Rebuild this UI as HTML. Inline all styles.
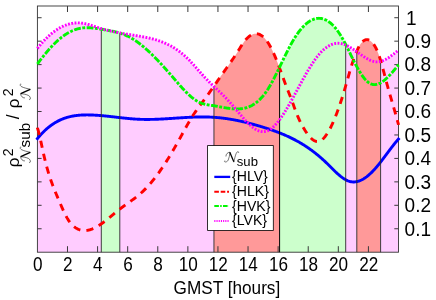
<!DOCTYPE html>
<html><head><meta charset="utf-8"><title>chart</title>
<style>html,body{margin:0;padding:0;background:#fff;overflow:hidden}body{width:436px;height:300px;position:relative;font-family:"Liberation Sans",sans-serif}svg{will-change:transform}</style></head>
<body>
<svg width="436" height="300" viewBox="0 0 436 300" style="position:absolute;left:0;top:0">
<rect x="0" y="0" width="436" height="300" fill="#fff"/>
<polygon fill="#ffccff" points="37.40,252.20 37.40,48.36 37.90,47.73 38.40,47.11 38.90,46.49 39.40,45.89 39.90,45.29 40.40,44.70 40.90,44.12 41.40,43.54 41.90,42.97 42.40,42.41 42.90,41.86 43.40,41.32 43.90,40.79 44.40,40.26 44.90,39.74 45.40,39.23 45.90,38.72 46.40,38.23 46.90,37.74 47.40,37.26 47.90,36.79 48.40,36.33 48.90,35.87 49.40,35.42 49.90,34.98 50.40,34.55 50.90,34.13 51.40,33.71 51.90,33.30 52.40,32.90 52.90,32.51 53.40,32.12 53.90,31.75 54.40,31.38 54.90,31.02 55.40,30.67 55.90,30.32 56.40,29.98 56.90,29.65 57.40,29.33 57.90,29.02 58.40,28.71 58.90,28.41 59.40,28.12 59.90,27.84 60.40,27.57 60.90,27.30 61.40,27.04 61.90,26.79 62.40,26.55 62.90,26.31 63.40,26.08 63.90,25.86 64.40,25.65 64.90,25.45 65.40,25.25 65.90,25.06 66.40,24.88 66.90,24.71 67.40,24.55 67.90,24.39 68.40,24.24 68.90,24.10 69.40,23.96 69.90,23.84 70.40,23.72 70.90,23.61 71.40,23.51 71.90,23.41 72.40,23.32 72.90,23.25 73.40,23.17 73.90,23.11 74.40,23.05 74.90,23.01 75.40,22.96 75.90,22.93 76.40,22.91 76.90,22.89 77.40,22.88 77.90,22.88 78.40,22.88 78.90,22.90 79.40,22.92 79.90,22.95 80.40,22.98 80.90,23.03 81.40,23.08 81.90,23.14 82.40,23.21 82.90,23.28 83.40,23.36 83.90,23.45 84.40,23.54 84.90,23.64 85.40,23.75 85.90,23.86 86.40,23.98 86.90,24.10 87.40,24.22 87.90,24.35 88.40,24.49 88.90,24.63 89.40,24.77 89.90,24.92 90.40,25.06 90.90,25.22 91.40,25.37 91.90,25.53 92.40,25.69 92.90,25.85 93.40,26.01 93.90,26.18 94.40,26.34 94.90,26.51 95.40,26.68 95.90,26.84 96.40,27.01 96.90,27.18 97.40,27.35 97.90,27.51 98.40,27.68 98.90,27.84 99.40,28.01 99.90,28.17 100.40,28.33 100.90,28.49 101.30,28.61 101.30,252.20"/>
<polygon fill="#ccffcc" points="101.30,252.20 101.30,28.61 101.40,28.64 101.90,28.80 102.40,28.95 102.90,29.09 103.40,29.24 103.90,29.38 104.40,29.52 104.90,29.66 105.40,29.80 105.90,29.93 106.40,30.03 106.90,30.12 107.40,30.20 107.90,30.29 108.40,30.38 108.90,30.47 109.40,30.57 109.90,30.66 110.40,30.76 110.90,30.86 111.40,30.96 111.90,31.07 112.40,31.17 112.90,31.28 113.40,31.39 113.90,31.51 114.40,31.63 114.90,31.75 115.40,31.87 115.90,32.00 116.40,32.13 116.90,32.26 117.40,32.40 117.90,32.54 118.40,32.68 118.90,32.78 119.40,32.87 119.80,32.94 119.80,252.20"/>
<polygon fill="#ffccff" points="119.80,252.20 119.80,32.94 119.90,32.96 120.40,33.05 120.90,33.14 121.40,33.22 121.90,33.31 122.40,33.40 122.90,33.48 123.40,33.56 123.90,33.65 124.40,33.73 124.90,33.81 125.40,33.89 125.90,33.98 126.40,34.06 126.90,34.14 127.40,34.22 127.90,34.30 128.40,34.38 128.90,34.46 129.40,34.54 129.90,34.62 130.40,34.70 130.90,34.78 131.40,34.85 131.90,34.93 132.40,35.01 132.90,35.09 133.40,35.17 133.90,35.25 134.40,35.33 134.90,35.41 135.40,35.50 135.90,35.58 136.40,35.66 136.90,35.74 137.40,35.82 137.90,35.91 138.40,35.99 138.90,36.08 139.40,36.16 139.90,36.25 140.40,36.34 140.90,36.43 141.40,36.51 141.90,36.61 142.40,36.70 142.90,36.79 143.40,36.88 143.90,36.98 144.40,37.07 144.90,37.17 145.40,37.27 145.90,37.37 146.40,37.47 146.90,37.58 147.40,37.68 147.90,37.79 148.40,37.90 148.90,38.01 149.40,38.13 149.90,38.24 150.40,38.36 150.90,38.48 151.40,38.61 151.90,38.73 152.40,38.86 152.90,38.99 153.40,39.12 153.90,39.26 154.40,39.40 154.90,39.54 155.40,39.68 155.90,39.83 156.40,39.98 156.90,40.14 157.40,40.29 157.90,40.45 158.40,40.62 158.90,40.78 159.40,40.95 159.90,41.13 160.40,41.31 160.90,41.49 161.40,41.67 161.90,41.86 162.40,42.06 162.90,42.25 163.40,42.45 163.90,42.66 164.40,42.87 164.90,43.08 165.40,43.30 165.90,43.52 166.40,43.75 166.90,43.98 167.40,44.22 167.90,44.46 168.40,44.71 168.90,44.96 169.40,45.21 169.90,45.47 170.40,45.74 170.90,46.01 171.40,46.29 171.90,46.57 172.40,46.85 172.90,47.15 173.40,47.44 173.90,47.75 174.40,48.06 174.90,48.37 175.40,48.69 175.90,49.02 176.40,49.35 176.90,49.69 177.40,50.03 177.90,50.38 178.40,50.74 178.90,51.10 179.40,51.47 179.90,51.85 180.40,52.23 180.90,52.62 181.40,53.02 181.90,53.42 182.40,53.83 182.90,54.24 183.40,54.67 183.90,55.09 184.40,55.53 184.90,55.98 185.40,56.43 185.90,56.89 186.40,57.35 186.90,57.82 187.40,58.31 187.90,58.79 188.40,59.29 188.90,59.79 189.40,60.30 189.90,60.82 190.40,61.34 190.90,61.87 191.40,62.41 191.90,62.95 192.40,63.49 192.90,64.04 193.40,64.59 193.90,65.15 194.40,65.71 194.90,66.27 195.40,66.83 195.90,67.40 196.40,67.97 196.90,68.53 197.40,69.10 197.90,69.67 198.40,70.24 198.90,70.81 199.40,71.38 199.90,71.95 200.40,72.52 200.90,73.08 201.40,73.65 201.90,74.21 202.40,74.76 202.90,75.32 203.40,75.87 203.90,76.41 204.40,76.95 204.90,77.49 205.40,78.02 205.90,78.55 206.40,79.07 206.90,79.59 207.40,80.10 207.90,80.61 208.40,81.11 208.90,81.61 209.40,82.11 209.90,82.60 210.40,83.09 210.90,83.58 211.40,84.06 211.90,84.54 212.40,85.02 212.90,85.50 213.40,85.98 213.90,86.19 213.95,86.12 213.95,252.20"/>
<polygon fill="#ff9999" points="213.95,252.20 213.95,86.12 214.40,85.47 214.90,84.75 215.40,84.03 215.90,83.31 216.40,82.58 216.90,81.86 217.40,81.14 217.90,80.42 218.40,79.69 218.90,78.97 219.40,78.25 219.90,77.53 220.40,76.81 220.90,76.09 221.40,75.37 221.90,74.65 222.40,73.93 222.90,73.22 223.40,72.50 223.90,71.79 224.40,71.08 224.90,70.37 225.40,69.67 225.90,68.96 226.40,68.25 226.90,67.55 227.40,66.84 227.90,66.13 228.40,65.43 228.90,64.72 229.40,64.01 229.90,63.29 230.40,62.58 230.90,61.86 231.40,61.14 231.90,60.42 232.40,59.69 232.90,58.96 233.40,58.23 233.90,57.49 234.40,56.74 234.90,55.99 235.40,55.24 235.90,54.47 236.40,53.71 236.90,52.93 237.40,52.15 237.90,51.36 238.40,50.57 238.90,49.77 239.40,48.95 239.90,48.14 240.40,47.32 240.90,46.51 241.40,45.72 241.90,44.93 242.40,44.17 242.90,43.43 243.40,42.71 243.90,42.02 244.40,41.36 244.90,40.73 245.40,40.12 245.90,39.53 246.40,38.98 246.90,38.45 247.40,37.95 247.90,37.47 248.40,37.03 248.90,36.61 249.40,36.21 249.90,35.85 250.40,35.51 250.90,35.21 251.40,34.93 251.90,34.67 252.40,34.45 252.90,34.26 253.40,34.09 253.90,33.95 254.40,33.85 254.90,33.77 255.40,33.72 255.90,33.70 256.40,33.71 256.90,33.75 257.40,33.82 257.90,33.92 258.40,34.05 258.90,34.22 259.40,34.41 259.90,34.63 260.40,34.88 260.90,35.17 261.40,35.48 261.90,35.83 262.40,36.21 262.90,36.62 263.40,37.06 263.90,37.54 264.40,38.04 264.90,38.58 265.40,39.15 265.90,39.76 266.40,40.39 266.90,41.06 267.40,41.76 267.90,42.50 268.40,43.27 268.90,44.07 269.40,44.90 269.90,45.77 270.40,46.68 270.90,47.61 271.40,48.58 271.90,49.58 272.40,50.61 272.90,51.67 273.40,52.75 273.90,53.86 274.40,55.00 274.90,56.16 275.40,57.35 275.90,58.56 276.40,59.78 276.90,61.03 277.40,62.30 277.90,63.59 278.40,64.89 278.90,66.21 279.40,67.54 279.60,67.13 279.60,252.20"/>
<polygon fill="#ccffcc" points="279.60,252.20 279.60,67.13 279.90,66.52 280.40,65.48 280.90,64.44 281.40,63.39 281.90,62.35 282.40,61.31 282.90,60.27 283.40,59.23 283.90,58.20 284.40,57.17 284.90,56.14 285.40,55.12 285.90,54.10 286.40,53.09 286.90,52.09 287.40,51.09 287.90,50.10 288.40,49.13 288.90,48.16 289.40,47.20 289.90,46.26 290.40,45.32 290.90,44.40 291.40,43.49 291.90,42.60 292.40,41.72 292.90,40.86 293.40,40.01 293.90,39.18 294.40,38.36 294.90,37.56 295.40,36.78 295.90,36.01 296.40,35.26 296.90,34.52 297.40,33.80 297.90,33.10 298.40,32.41 298.90,31.74 299.40,31.08 299.90,30.44 300.40,29.81 300.90,29.21 301.40,28.61 301.90,28.04 302.40,27.48 302.90,26.94 303.40,26.41 303.90,25.90 304.40,25.41 304.90,24.93 305.40,24.47 305.90,24.02 306.40,23.59 306.90,23.18 307.40,22.79 307.90,22.41 308.40,22.05 308.90,21.70 309.40,21.37 309.90,21.06 310.40,20.76 310.90,20.48 311.40,20.22 311.90,19.98 312.40,19.75 312.90,19.54 313.40,19.34 313.90,19.16 314.40,19.00 314.90,18.86 315.40,18.73 315.90,18.62 316.40,18.53 316.90,18.46 317.40,18.40 317.90,18.36 318.40,18.33 318.90,18.32 319.40,18.33 319.90,18.36 320.40,18.41 320.90,18.47 321.40,18.55 321.90,18.64 322.40,18.76 322.90,18.89 323.40,19.04 323.90,19.21 324.40,19.39 324.90,19.59 325.40,19.81 325.90,20.05 326.40,20.30 326.90,20.57 327.40,20.86 327.90,21.17 328.40,21.50 328.90,21.84 329.40,22.20 329.90,22.58 330.40,22.98 330.90,23.40 331.40,23.84 331.90,24.29 332.40,24.76 332.90,25.26 333.40,25.77 333.90,26.30 334.40,26.85 334.90,27.42 335.40,28.01 335.90,28.63 336.40,29.26 336.90,29.91 337.40,30.58 337.90,31.27 338.40,31.98 338.90,32.72 339.40,33.47 339.90,34.25 340.40,35.04 340.90,35.86 341.40,36.69 341.90,37.54 342.40,38.41 342.90,39.30 343.40,40.20 343.90,41.12 344.40,42.05 344.90,43.00 345.40,43.95 345.70,44.54 345.70,252.20"/>
<polygon fill="#ffccff" points="345.70,252.20 345.70,44.54 345.90,44.92 346.40,45.39 346.90,45.62 347.40,45.86 347.90,46.12 348.40,46.38 348.90,46.65 349.40,46.92 349.90,47.21 350.40,47.50 350.90,47.80 351.40,48.11 351.90,48.42 352.40,48.74 352.90,49.06 353.40,49.39 353.90,49.72 354.40,50.06 354.90,50.40 355.40,50.74 355.90,51.09 356.40,51.44 356.80,50.97 356.80,252.20"/>
<polygon fill="#ff9999" points="356.80,252.20 356.80,50.97 356.90,50.86 357.40,49.76 357.90,48.71 358.40,47.72 358.90,46.79 359.40,45.91 359.90,45.09 360.40,44.33 360.90,43.62 361.40,42.98 361.90,42.39 362.40,41.86 362.90,41.39 363.40,40.98 363.90,40.62 364.40,40.32 364.90,40.07 365.40,39.88 365.90,39.74 366.40,39.66 366.90,39.63 367.40,39.66 367.90,39.73 368.40,39.86 368.90,40.04 369.40,40.27 369.90,40.56 370.40,40.89 370.90,41.27 371.40,41.70 371.90,42.18 372.40,42.71 372.90,43.30 373.40,43.93 373.90,44.63 374.40,45.38 374.90,46.20 375.40,47.07 375.90,48.02 376.40,49.02 376.90,50.10 377.40,51.25 377.90,52.47 378.40,53.77 378.90,55.15 379.40,56.60 379.90,58.14 380.40,59.75 380.60,60.37 380.60,252.20"/>
<polygon fill="#ffccff" points="380.60,252.20 380.60,60.37 380.90,61.31 381.40,61.17 381.90,61.01 382.40,60.84 382.90,60.65 383.40,60.45 383.90,60.23 384.40,60.00 384.90,59.76 385.40,59.51 385.90,59.24 386.40,58.96 386.90,58.68 387.40,58.38 387.90,58.07 388.40,57.76 388.90,57.43 389.40,57.10 389.90,56.76 390.40,56.41 390.90,56.05 391.40,55.69 391.90,55.32 392.40,54.95 392.90,54.57 393.40,54.18 393.90,53.80 394.40,53.40 394.90,53.01 395.40,52.61 395.90,52.21 396.40,51.81 396.90,51.41 397.40,51.01 397.90,50.60 398.50,50.12 398.50,252.20"/>
<rect x="37.4" y="6.0" width="361.1" height="246.2" fill="none" stroke="#333" stroke-width="0.9"/>
<path d="M67.49,252.2 v-6 M67.49,6.0 v6 M97.58,252.2 v-6 M97.58,6.0 v6 M127.68,252.2 v-6 M127.68,6.0 v6 M157.77,252.2 v-6 M157.77,6.0 v6 M187.86,252.2 v-6 M187.86,6.0 v6 M217.95,252.2 v-6 M217.95,6.0 v6 M248.04,252.2 v-6 M248.04,6.0 v6 M278.13,252.2 v-6 M278.13,6.0 v6 M308.22,252.2 v-6 M308.22,6.0 v6 M338.32,252.2 v-6 M338.32,6.0 v6 M368.41,252.2 v-6 M368.41,6.0 v6 M37.4,228.75 h4.2 M398.5,228.75 h-4.2 M37.4,205.30 h4.2 M398.5,205.30 h-4.2 M37.4,181.86 h4.2 M398.5,181.86 h-4.2 M37.4,158.41 h4.2 M398.5,158.41 h-4.2 M37.4,134.96 h4.2 M398.5,134.96 h-4.2 M37.4,111.51 h4.2 M398.5,111.51 h-4.2 M37.4,88.07 h4.2 M398.5,88.07 h-4.2 M37.4,64.62 h4.2 M398.5,64.62 h-4.2 M37.4,41.17 h4.2 M398.5,41.17 h-4.2 M37.4,17.72 h4.2 M398.5,17.72 h-4.2" stroke="#3a3a3a" stroke-width="1" fill="none"/>
<g fill="none" stroke-linejoin="round">
<path d="M36.51,139.73 L37.40,138.65 L37.90,138.03 L38.40,137.43 L38.90,136.84 L39.40,136.26 L39.90,135.69 L40.40,135.13 L40.90,134.58 L41.40,134.04 L41.90,133.50 L42.40,132.98 L42.90,132.47 L43.40,131.97 L43.90,131.47 L44.40,130.99 L44.90,130.51 L45.40,130.05 L45.90,129.59 L46.40,129.14 L46.90,128.70 L47.40,128.27 L47.90,127.85 L48.40,127.44 L48.90,127.04 L49.40,126.64 L49.90,126.25 L50.40,125.87 L50.90,125.50 L51.40,125.14 L51.90,124.79 L52.40,124.44 L52.90,124.10 L53.40,123.77 L53.90,123.45 L54.40,123.13 L54.90,122.82 L55.40,122.52 L55.90,122.23 L56.40,121.94 L56.90,121.66 L57.40,121.39 L57.90,121.13 L58.40,120.87 L58.90,120.62 L59.40,120.37 L59.90,120.14 L60.40,119.91 L60.90,119.68 L61.40,119.46 L61.90,119.25 L62.40,119.05 L62.90,118.85 L63.40,118.66 L63.90,118.47 L64.40,118.29 L64.90,118.11 L65.40,117.94 L65.90,117.78 L66.40,117.62 L66.90,117.47 L67.40,117.32 L67.90,117.18 L68.40,117.04 L68.90,116.91 L69.40,116.79 L69.90,116.67 L70.40,116.55 L70.90,116.44 L71.40,116.33 L71.90,116.23 L72.40,116.13 L72.90,116.04 L73.40,115.95 L73.90,115.87 L74.40,115.79 L74.90,115.71 L75.40,115.64 L75.90,115.57 L76.40,115.51 L76.90,115.45 L77.40,115.39 L77.90,115.34 L78.40,115.29 L78.90,115.24 L79.40,115.20 L79.90,115.16 L80.40,115.13 L80.90,115.10 L81.40,115.07 L81.90,115.04 L82.40,115.02 L82.90,115.00 L83.40,114.98 L83.90,114.96 L84.40,114.95 L84.90,114.94 L85.40,114.93 L85.90,114.93 L86.40,114.92 L86.90,114.92 L87.40,114.92 L87.90,114.92 L88.40,114.93 L88.90,114.94 L89.40,114.94 L89.90,114.95 L90.40,114.97 L90.90,114.98 L91.40,115.00 L91.90,115.01 L92.40,115.03 L92.90,115.05 L93.40,115.07 L93.90,115.10 L94.40,115.12 L94.90,115.15 L95.40,115.18 L95.90,115.21 L96.40,115.24 L96.90,115.27 L97.40,115.30 L97.90,115.34 L98.40,115.37 L98.90,115.41 L99.40,115.45 L99.90,115.49 L100.40,115.53 L100.90,115.57 L101.40,115.61 L101.90,115.66 L102.40,115.70 L102.90,115.75 L103.40,115.79 L103.90,115.84 L104.40,115.89 L104.90,115.94 L105.40,115.99 L105.90,116.04 L106.40,116.09 L106.90,116.14 L107.40,116.19 L107.90,116.25 L108.40,116.30 L108.90,116.35 L109.40,116.41 L109.90,116.46 L110.40,116.52 L110.90,116.58 L111.40,116.63 L111.90,116.69 L112.40,116.74 L112.90,116.80 L113.40,116.86 L113.90,116.92 L114.40,116.97 L114.90,117.03 L115.40,117.09 L115.90,117.15 L116.40,117.21 L116.90,117.26 L117.40,117.32 L117.90,117.38 L118.40,117.44 L118.90,117.49 L119.40,117.55 L119.90,117.61 L120.40,117.66 L120.90,117.72 L121.40,117.78 L121.90,117.83 L122.40,117.89 L122.90,117.94 L123.40,118.00 L123.90,118.05 L124.40,118.11 L124.90,118.16 L125.40,118.21 L125.90,118.26 L126.40,118.31 L126.90,118.36 L127.40,118.41 L127.90,118.46 L128.40,118.51 L128.90,118.56 L129.40,118.60 L129.90,118.65 L130.40,118.69 L130.90,118.74 L131.40,118.78 L131.90,118.82 L132.40,118.86 L132.90,118.90 L133.40,118.94 L133.90,118.98 L134.40,119.01 L134.90,119.05 L135.40,119.08 L135.90,119.11 L136.40,119.14 L136.90,119.17 L137.40,119.20 L137.90,119.23 L138.40,119.25 L138.90,119.27 L139.40,119.30 L139.90,119.32 L140.40,119.33 L140.90,119.35 L141.40,119.37 L141.90,119.38 L142.40,119.39 L142.90,119.41 L143.40,119.42 L143.90,119.42 L144.40,119.43 L144.90,119.44 L145.40,119.44 L145.90,119.45 L146.40,119.45 L146.90,119.45 L147.40,119.45 L147.90,119.45 L148.40,119.45 L148.90,119.44 L149.40,119.44 L149.90,119.43 L150.40,119.42 L150.90,119.42 L151.40,119.41 L151.90,119.40 L152.40,119.39 L152.90,119.37 L153.40,119.36 L153.90,119.35 L154.40,119.33 L154.90,119.32 L155.40,119.30 L155.90,119.28 L156.40,119.26 L156.90,119.24 L157.40,119.22 L157.90,119.20 L158.40,119.18 L158.90,119.16 L159.40,119.14 L159.90,119.11 L160.40,119.09 L160.90,119.06 L161.40,119.04 L161.90,119.01 L162.40,118.99 L162.90,118.96 L163.40,118.93 L163.90,118.90 L164.40,118.87 L164.90,118.85 L165.40,118.82 L165.90,118.79 L166.40,118.76 L166.90,118.73 L167.40,118.69 L167.90,118.66 L168.40,118.63 L168.90,118.60 L169.40,118.57 L169.90,118.53 L170.40,118.50 L170.90,118.47 L171.40,118.44 L171.90,118.40 L172.40,118.37 L172.90,118.34 L173.40,118.30 L173.90,118.27 L174.40,118.24 L174.90,118.20 L175.40,118.17 L175.90,118.14 L176.40,118.10 L176.90,118.07 L177.40,118.03 L177.90,118.00 L178.40,117.97 L178.90,117.94 L179.40,117.90 L179.90,117.87 L180.40,117.84 L180.90,117.81 L181.40,117.77 L181.90,117.74 L182.40,117.71 L182.90,117.68 L183.40,117.65 L183.90,117.62 L184.40,117.59 L184.90,117.56 L185.40,117.53 L185.90,117.50 L186.40,117.47 L186.90,117.45 L187.40,117.42 L187.90,117.39 L188.40,117.37 L188.90,117.34 L189.40,117.32 L189.90,117.29 L190.40,117.27 L190.90,117.25 L191.40,117.22 L191.90,117.20 L192.40,117.18 L192.90,117.16 L193.40,117.14 L193.90,117.12 L194.40,117.11 L194.90,117.09 L195.40,117.07 L195.90,117.06 L196.40,117.05 L196.90,117.03 L197.40,117.02 L197.90,117.01 L198.40,117.00 L198.90,116.99 L199.40,116.98 L199.90,116.98 L200.40,116.97 L200.90,116.96 L201.40,116.96 L201.90,116.96 L202.40,116.96 L202.90,116.96 L203.40,116.96 L203.90,116.96 L204.40,116.96 L204.90,116.97 L205.40,116.98 L205.90,116.98 L206.40,116.99 L206.90,117.00 L207.40,117.01 L207.90,117.03 L208.40,117.04 L208.90,117.06 L209.40,117.07 L209.90,117.09 L210.40,117.11 L210.90,117.13 L211.40,117.16 L211.90,117.18 L212.40,117.21 L212.90,117.24 L213.40,117.27 L213.90,117.30 L214.40,117.33 L214.90,117.37 L215.40,117.40 L215.90,117.44 L216.40,117.48 L216.90,117.52 L217.40,117.57 L217.90,117.61 L218.40,117.66 L218.90,117.71 L219.40,117.76 L219.90,117.81 L220.40,117.86 L220.90,117.91 L221.40,117.97 L221.90,118.03 L222.40,118.09 L222.90,118.15 L223.40,118.21 L223.90,118.27 L224.40,118.34 L224.90,118.40 L225.40,118.47 L225.90,118.54 L226.40,118.61 L226.90,118.68 L227.40,118.76 L227.90,118.83 L228.40,118.91 L228.90,118.99 L229.40,119.07 L229.90,119.15 L230.40,119.23 L230.90,119.32 L231.40,119.40 L231.90,119.49 L232.40,119.57 L232.90,119.66 L233.40,119.75 L233.90,119.85 L234.40,119.94 L234.90,120.03 L235.40,120.13 L235.90,120.23 L236.40,120.32 L236.90,120.42 L237.40,120.53 L237.90,120.63 L238.40,120.73 L238.90,120.84 L239.40,120.94 L239.90,121.05 L240.40,121.16 L240.90,121.27 L241.40,121.38 L241.90,121.49 L242.40,121.60 L242.90,121.72 L243.40,121.83 L243.90,121.95 L244.40,122.07 L244.90,122.18 L245.40,122.30 L245.90,122.43 L246.40,122.55 L246.90,122.67 L247.40,122.79 L247.90,122.92 L248.40,123.05 L248.90,123.17 L249.40,123.30 L249.90,123.43 L250.40,123.56 L250.90,123.69 L251.40,123.83 L251.90,123.96 L252.40,124.10 L252.90,124.23 L253.40,124.37 L253.90,124.51 L254.40,124.64 L254.90,124.78 L255.40,124.92 L255.90,125.06 L256.40,125.21 L256.90,125.35 L257.40,125.49 L257.90,125.64 L258.40,125.79 L258.90,125.93 L259.40,126.08 L259.90,126.23 L260.40,126.38 L260.90,126.53 L261.40,126.68 L261.90,126.83 L262.40,126.98 L262.90,127.14 L263.40,127.29 L263.90,127.45 L264.40,127.60 L264.90,127.76 L265.40,127.92 L265.90,128.08 L266.40,128.23 L266.90,128.40 L267.40,128.56 L267.90,128.72 L268.40,128.88 L268.90,129.05 L269.40,129.22 L269.90,129.38 L270.40,129.55 L270.90,129.72 L271.40,129.89 L271.90,130.07 L272.40,130.24 L272.90,130.41 L273.40,130.59 L273.90,130.77 L274.40,130.95 L274.90,131.13 L275.40,131.31 L275.90,131.50 L276.40,131.68 L276.90,131.87 L277.40,132.06 L277.90,132.25 L278.40,132.44 L278.90,132.63 L279.40,132.83 L279.90,133.03 L280.40,133.22 L280.90,133.42 L281.40,133.63 L281.90,133.83 L282.40,134.04 L282.90,134.25 L283.40,134.46 L283.90,134.67 L284.40,134.88 L284.90,135.10 L285.40,135.32 L285.90,135.54 L286.40,135.76 L286.90,135.98 L287.40,136.21 L287.90,136.44 L288.40,136.67 L288.90,136.90 L289.40,137.14 L289.90,137.38 L290.40,137.62 L290.90,137.86 L291.40,138.10 L291.90,138.35 L292.40,138.60 L292.90,138.85 L293.40,139.11 L293.90,139.37 L294.40,139.62 L294.90,139.89 L295.40,140.15 L295.90,140.42 L296.40,140.69 L296.90,140.96 L297.40,141.24 L297.90,141.52 L298.40,141.80 L298.90,142.08 L299.40,142.37 L299.90,142.66 L300.40,142.95 L300.90,143.25 L301.40,143.55 L301.90,143.85 L302.40,144.15 L302.90,144.46 L303.40,144.77 L303.90,145.08 L304.40,145.40 L304.90,145.72 L305.40,146.04 L305.90,146.37 L306.40,146.70 L306.90,147.03 L307.40,147.37 L307.90,147.71 L308.40,148.05 L308.90,148.39 L309.40,148.74 L309.90,149.10 L310.40,149.45 L310.90,149.81 L311.40,150.18 L311.90,150.54 L312.40,150.91 L312.90,151.29 L313.40,151.66 L313.90,152.05 L314.40,152.43 L314.90,152.82 L315.40,153.21 L315.90,153.61 L316.40,154.01 L316.90,154.41 L317.40,154.82 L317.90,155.23 L318.40,155.64 L318.90,156.06 L319.40,156.49 L319.90,156.91 L320.40,157.34 L320.90,157.78 L321.40,158.22 L321.90,158.66 L322.40,159.11 L322.90,159.56 L323.40,160.02 L323.90,160.48 L324.40,160.94 L324.90,161.41 L325.40,161.88 L325.90,162.36 L326.40,162.84 L326.90,163.32 L327.40,163.81 L327.90,164.30 L328.40,164.80 L328.90,165.29 L329.40,165.79 L329.90,166.29 L330.40,166.79 L330.90,167.29 L331.40,167.79 L331.90,168.28 L332.40,168.78 L332.90,169.28 L333.40,169.77 L333.90,170.26 L334.40,170.74 L334.90,171.22 L335.40,171.70 L335.90,172.18 L336.40,172.64 L336.90,173.11 L337.40,173.56 L337.90,174.01 L338.40,174.45 L338.90,174.89 L339.40,175.31 L339.90,175.73 L340.40,176.14 L340.90,176.53 L341.40,176.92 L341.90,177.30 L342.40,177.67 L342.90,178.02 L343.40,178.36 L343.90,178.69 L344.40,179.01 L344.90,179.31 L345.40,179.60 L345.90,179.88 L346.40,180.14 L346.90,180.38 L347.40,180.61 L347.90,180.82 L348.40,181.01 L348.90,181.19 L349.40,181.35 L349.90,181.49 L350.40,181.61 L350.90,181.72 L351.40,181.80 L351.90,181.87 L352.40,181.92 L352.90,181.96 L353.40,181.97 L353.90,181.97 L354.40,181.95 L354.90,181.92 L355.40,181.87 L355.90,181.80 L356.40,181.72 L356.90,181.62 L357.40,181.50 L357.90,181.37 L358.40,181.22 L358.90,181.06 L359.40,180.88 L359.90,180.69 L360.40,180.48 L360.90,180.26 L361.40,180.03 L361.90,179.78 L362.40,179.51 L362.90,179.24 L363.40,178.95 L363.90,178.64 L364.40,178.32 L364.90,177.99 L365.40,177.65 L365.90,177.29 L366.40,176.93 L366.90,176.55 L367.40,176.15 L367.90,175.75 L368.40,175.33 L368.90,174.90 L369.40,174.46 L369.90,174.01 L370.40,173.55 L370.90,173.08 L371.40,172.60 L371.90,172.10 L372.40,171.60 L372.90,171.09 L373.40,170.56 L373.90,170.03 L374.40,169.49 L374.90,168.93 L375.40,168.37 L375.90,167.80 L376.40,167.22 L376.90,166.63 L377.40,166.04 L377.90,165.44 L378.40,164.82 L378.90,164.21 L379.40,163.58 L379.90,162.95 L380.40,162.32 L380.90,161.68 L381.40,161.03 L381.90,160.38 L382.40,159.73 L382.90,159.07 L383.40,158.41 L383.90,157.74 L384.40,157.08 L384.90,156.41 L385.40,155.74 L385.90,155.07 L386.40,154.40 L386.90,153.72 L387.40,153.05 L387.90,152.38 L388.40,151.71 L388.90,151.04 L389.40,150.37 L389.90,149.71 L390.40,149.05 L390.90,148.39 L391.40,147.73 L391.90,147.08 L392.40,146.43 L392.90,145.79 L393.40,145.15 L393.90,144.52 L394.40,143.89 L394.90,143.27 L395.40,142.65 L395.90,142.05 L396.40,141.45 L396.90,140.85 L397.40,140.27 L397.90,139.69 L398.50,139.02 L399.43,137.97" stroke="#0000ff" stroke-width="2.9"/>
<line x1="101.30" y1="252.2" x2="101.30" y2="28.61" stroke="#2a2a2a" stroke-width="0.9"/>
<line x1="119.80" y1="252.2" x2="119.80" y2="32.94" stroke="#2a2a2a" stroke-width="0.9"/>
<line x1="213.95" y1="252.2" x2="213.95" y2="86.12" stroke="#2a2a2a" stroke-width="0.9"/>
<line x1="279.60" y1="252.2" x2="279.60" y2="67.13" stroke="#000" stroke-width="1.0"/>
<line x1="345.70" y1="252.2" x2="345.70" y2="44.54" stroke="#2a2a2a" stroke-width="0.9"/>
<line x1="356.80" y1="252.2" x2="356.80" y2="50.97" stroke="#2a2a2a" stroke-width="0.9"/>
<line x1="380.60" y1="252.2" x2="380.60" y2="60.37" stroke="#2a2a2a" stroke-width="0.9"/>
<path d="M37.40,127.85 L37.40,127.86 L37.90,129.41 L38.40,131.14 L38.90,133.02 L39.40,135.02 L39.90,137.12 L40.40,139.32 L40.90,141.58 L41.40,143.89 L41.90,146.22 L42.40,148.55 L42.90,150.87 L43.40,153.15 L43.90,155.38 L44.40,157.54 L44.90,159.62 L45.40,161.65 L45.90,163.61 L46.40,165.51 L46.90,167.35 L47.40,169.13 L47.90,170.86 L48.40,172.54 L48.90,174.18 L49.40,175.76 L49.90,177.30 L50.40,178.80 L50.90,180.27 L51.40,181.69 L51.90,183.08 L52.40,184.44 L52.90,185.78 L53.40,187.08 L53.90,188.36 L54.40,189.62 L54.90,190.86 L55.40,192.08 L55.90,193.29 L56.40,194.48 L56.90,195.67 L57.40,196.85 L57.90,198.02 L58.40,199.19 L58.90,200.36 L59.40,201.54 L59.90,202.71 L60.40,203.88 L60.90,205.04 L61.40,206.19 L61.90,207.33 L62.40,208.46 L62.90,209.58 L63.40,210.67 L63.90,211.75 L64.40,212.80 L64.90,213.83 L65.40,214.83 L65.90,215.80 L66.40,216.74 L66.90,217.64 L67.40,218.51 L67.90,219.33 L68.40,220.12 L68.90,220.87 L69.40,221.58 L69.90,222.26 L70.40,222.90 L70.90,223.51 L71.40,224.09 L71.90,224.63 L72.40,225.14 L72.90,225.63 L73.40,226.08 L73.90,226.51 L74.40,226.91 L74.90,227.29 L75.40,227.64 L75.90,227.97 L76.40,228.28 L76.90,228.56 L77.40,228.83 L77.90,229.07 L78.40,229.30 L78.90,229.50 L79.40,229.69 L79.90,229.86 L80.40,230.00 L80.90,230.13 L81.40,230.25 L81.90,230.34 L82.40,230.42 L82.90,230.48 L83.40,230.52 L83.90,230.55 L84.40,230.57 L84.90,230.56 L85.40,230.54 L85.90,230.51 L86.40,230.47 L86.90,230.41 L87.40,230.33 L87.90,230.24 L88.40,230.14 L88.90,230.03 L89.40,229.90 L89.90,229.77 L90.40,229.62 L90.90,229.45 L91.40,229.28 L91.90,229.10 L92.40,228.90 L92.90,228.69 L93.40,228.48 L93.90,228.25 L94.40,228.01 L94.90,227.76 L95.40,227.51 L95.90,227.24 L96.40,226.97 L96.90,226.69 L97.40,226.40 L97.90,226.10 L98.40,225.79 L98.90,225.48 L99.40,225.16 L99.90,224.83 L100.40,224.49 L100.90,224.15 L101.40,223.80 L101.90,223.45 L102.40,223.09 L102.90,222.72 L103.40,222.35 L103.90,221.98 L104.40,221.60 L104.90,221.22 L105.40,220.83 L105.90,220.44 L106.40,220.04 L106.90,219.65 L107.40,219.24 L107.90,218.84 L108.40,218.43 L108.90,218.03 L109.40,217.62 L109.90,217.20 L110.40,216.79 L110.90,216.38 L111.40,215.96 L111.90,215.55 L112.40,215.13 L112.90,214.71 L113.40,214.30 L113.90,213.88 L114.40,213.47 L114.90,213.05 L115.40,212.64 L115.90,212.23 L116.40,211.82 L116.90,211.41 L117.40,211.01 L117.90,210.61 L118.40,210.21 L118.90,209.81 L119.40,209.42 L119.90,209.03 L120.40,208.64 L120.90,208.26 L121.40,207.89 L121.90,207.51 L122.40,207.14 L122.90,206.77 L123.40,206.41 L123.90,206.04 L124.40,205.68 L124.90,205.32 L125.40,204.96 L125.90,204.60 L126.40,204.25 L126.90,203.89 L127.40,203.54 L127.90,203.18 L128.40,202.83 L128.90,202.47 L129.40,202.11 L129.90,201.76 L130.40,201.40 L130.90,201.04 L131.40,200.68 L131.90,200.32 L132.40,199.95 L132.90,199.58 L133.40,199.21 L133.90,198.84 L134.40,198.47 L134.90,198.09 L135.40,197.70 L135.90,197.32 L136.40,196.92 L136.90,196.53 L137.40,196.13 L137.90,195.72 L138.40,195.31 L138.90,194.90 L139.40,194.48 L139.90,194.05 L140.40,193.61 L140.90,193.17 L141.40,192.73 L141.90,192.27 L142.40,191.81 L142.90,191.34 L143.40,190.86 L143.90,190.38 L144.40,189.89 L144.90,189.39 L145.40,188.88 L145.90,188.37 L146.40,187.85 L146.90,187.32 L147.40,186.78 L147.90,186.24 L148.40,185.69 L148.90,185.13 L149.40,184.57 L149.90,184.00 L150.40,183.42 L150.90,182.83 L151.40,182.24 L151.90,181.64 L152.40,181.03 L152.90,180.42 L153.40,179.80 L153.90,179.17 L154.40,178.54 L154.90,177.90 L155.40,177.25 L155.90,176.60 L156.40,175.94 L156.90,175.27 L157.40,174.60 L157.90,173.92 L158.40,173.23 L158.90,172.54 L159.40,171.84 L159.90,171.13 L160.40,170.42 L160.90,169.70 L161.40,168.98 L161.90,168.25 L162.40,167.51 L162.90,166.77 L163.40,166.02 L163.90,165.26 L164.40,164.50 L164.90,163.74 L165.40,162.96 L165.90,162.18 L166.40,161.40 L166.90,160.61 L167.40,159.81 L167.90,159.01 L168.40,158.20 L168.90,157.39 L169.40,156.57 L169.90,155.74 L170.40,154.91 L170.90,154.08 L171.40,153.24 L171.90,152.40 L172.40,151.55 L172.90,150.69 L173.40,149.83 L173.90,148.97 L174.40,148.11 L174.90,147.24 L175.40,146.36 L175.90,145.48 L176.40,144.60 L176.90,143.72 L177.40,142.83 L177.90,141.93 L178.40,141.04 L178.90,140.14 L179.40,139.24 L179.90,138.34 L180.40,137.43 L180.90,136.52 L181.40,135.61 L181.90,134.70 L182.40,133.79 L182.90,132.87 L183.40,131.96 L183.90,131.05 L184.40,130.15 L184.90,129.24 L185.40,128.34 L185.90,127.44 L186.40,126.55 L186.90,125.66 L187.40,124.78 L187.90,123.90 L188.40,123.03 L188.90,122.17 L189.40,121.31 L189.90,120.46 L190.40,119.63 L190.90,118.80 L191.40,117.98 L191.90,117.17 L192.40,116.38 L192.90,115.59 L193.40,114.82 L193.90,114.06 L194.40,113.31 L194.90,112.57 L195.40,111.84 L195.90,111.12 L196.40,110.40 L196.90,109.69 L197.40,108.99 L197.90,108.30 L198.40,107.61 L198.90,106.92 L199.40,106.24 L199.90,105.57 L200.40,104.89 L200.90,104.22 L201.40,103.55 L201.90,102.88 L202.40,102.21 L202.90,101.54 L203.40,100.87 L203.90,100.20 L204.40,99.52 L204.90,98.85 L205.40,98.17 L205.90,97.48 L206.40,96.79 L206.90,96.10 L207.40,95.41 L207.90,94.72 L208.40,94.02 L208.90,93.32 L209.40,92.61 L209.90,91.91 L210.40,91.20 L210.90,90.49 L211.40,89.78 L211.90,89.06 L212.40,88.35 L212.90,87.63 L213.40,86.91 L213.90,86.19 L214.40,85.47 L214.90,84.75 L215.40,84.03 L215.90,83.31 L216.40,82.58 L216.90,81.86 L217.40,81.14 L217.90,80.42 L218.40,79.69 L218.90,78.97 L219.40,78.25 L219.90,77.53 L220.40,76.81 L220.90,76.09 L221.40,75.37 L221.90,74.65 L222.40,73.93 L222.90,73.22 L223.40,72.50 L223.90,71.79 L224.40,71.08 L224.90,70.37 L225.40,69.67 L225.90,68.96 L226.40,68.25 L226.90,67.55 L227.40,66.84 L227.90,66.13 L228.40,65.43 L228.90,64.72 L229.40,64.01 L229.90,63.29 L230.40,62.58 L230.90,61.86 L231.40,61.14 L231.90,60.42 L232.40,59.69 L232.90,58.96 L233.40,58.23 L233.90,57.49 L234.40,56.74 L234.90,55.99 L235.40,55.24 L235.90,54.47 L236.40,53.71 L236.90,52.93 L237.40,52.15 L237.90,51.36 L238.40,50.57 L238.90,49.77 L239.40,48.95 L239.90,48.14 L240.40,47.32 L240.90,46.51 L241.40,45.72 L241.90,44.93 L242.40,44.17 L242.90,43.43 L243.40,42.71 L243.90,42.02 L244.40,41.36 L244.90,40.73 L245.40,40.12 L245.90,39.53 L246.40,38.98 L246.90,38.45 L247.40,37.95 L247.90,37.47 L248.40,37.03 L248.90,36.61 L249.40,36.21 L249.90,35.85 L250.40,35.51 L250.90,35.21 L251.40,34.93 L251.90,34.67 L252.40,34.45 L252.90,34.26 L253.40,34.09 L253.90,33.95 L254.40,33.85 L254.90,33.77 L255.40,33.72 L255.90,33.70 L256.40,33.71 L256.90,33.75 L257.40,33.82 L257.90,33.92 L258.40,34.05 L258.90,34.22 L259.40,34.41 L259.90,34.63 L260.40,34.88 L260.90,35.17 L261.40,35.48 L261.90,35.83 L262.40,36.21 L262.90,36.62 L263.40,37.06 L263.90,37.54 L264.40,38.04 L264.90,38.58 L265.40,39.15 L265.90,39.76 L266.40,40.39 L266.90,41.06 L267.40,41.76 L267.90,42.50 L268.40,43.27 L268.90,44.07 L269.40,44.90 L269.90,45.77 L270.40,46.68 L270.90,47.61 L271.40,48.58 L271.90,49.58 L272.40,50.61 L272.90,51.67 L273.40,52.75 L273.90,53.86 L274.40,55.00 L274.90,56.16 L275.40,57.35 L275.90,58.56 L276.40,59.78 L276.90,61.03 L277.40,62.30 L277.90,63.59 L278.40,64.89 L278.90,66.21 L279.40,67.54 L279.90,68.89 L280.40,70.25 L280.90,71.62 L281.40,73.00 L281.90,74.38 L282.40,75.76 L282.90,77.15 L283.40,78.53 L283.90,79.91 L284.40,81.28 L284.90,82.64 L285.40,84.00 L285.90,85.34 L286.40,86.66 L286.90,87.97 L287.40,89.26 L287.90,90.53 L288.40,91.80 L288.90,93.05 L289.40,94.31 L289.90,95.57 L290.40,96.83 L290.90,98.12 L291.40,99.42 L291.90,100.75 L292.40,102.10 L292.90,103.48 L293.40,104.86 L293.90,106.26 L294.40,107.65 L294.90,109.03 L295.40,110.38 L295.90,111.71 L296.40,113.01 L296.90,114.27 L297.40,115.49 L297.90,116.68 L298.40,117.83 L298.90,118.95 L299.40,120.04 L299.90,121.09 L300.40,122.11 L300.90,123.11 L301.40,124.07 L301.90,125.01 L302.40,125.93 L302.90,126.82 L303.40,127.68 L303.90,128.53 L304.40,129.36 L304.90,130.16 L305.40,130.95 L305.90,131.72 L306.40,132.47 L306.90,133.19 L307.40,133.89 L307.90,134.56 L308.40,135.21 L308.90,135.84 L309.40,136.43 L309.90,137.00 L310.40,137.54 L310.90,138.05 L311.40,138.53 L311.90,138.97 L312.40,139.38 L312.90,139.76 L313.40,140.10 L313.90,140.41 L314.40,140.68 L314.90,140.91 L315.40,141.10 L315.90,141.26 L316.40,141.37 L316.90,141.44 L317.40,141.46 L317.90,141.45 L318.40,141.39 L318.90,141.28 L319.40,141.13 L319.90,140.94 L320.40,140.71 L320.90,140.43 L321.40,140.11 L321.90,139.75 L322.40,139.35 L322.90,138.91 L323.40,138.43 L323.90,137.92 L324.40,137.36 L324.90,136.77 L325.40,136.14 L325.90,135.48 L326.40,134.78 L326.90,134.04 L327.40,133.27 L327.90,132.47 L328.40,131.64 L328.90,130.77 L329.40,129.87 L329.90,128.94 L330.40,127.97 L330.90,126.98 L331.40,125.96 L331.90,124.91 L332.40,123.83 L332.90,122.72 L333.40,121.59 L333.90,120.43 L334.40,119.24 L334.90,118.03 L335.40,116.80 L335.90,115.53 L336.40,114.25 L336.90,112.94 L337.40,111.61 L337.90,110.25 L338.40,108.86 L338.90,107.46 L339.40,106.02 L339.90,104.57 L340.40,103.08 L340.90,101.58 L341.40,100.04 L341.90,98.49 L342.40,96.90 L342.90,95.30 L343.40,93.67 L343.90,92.01 L344.40,90.33 L344.90,88.62 L345.40,86.90 L345.90,85.15 L346.40,83.40 L346.90,81.64 L347.40,79.88 L347.90,78.12 L348.40,76.36 L348.90,74.61 L349.40,72.88 L349.90,71.16 L350.40,69.46 L350.90,67.79 L351.40,66.15 L351.90,64.54 L352.40,62.97 L352.90,61.44 L353.40,59.95 L353.90,58.51 L354.40,57.11 L354.90,55.76 L355.40,54.46 L355.90,53.21 L356.40,52.01 L356.90,50.86 L357.40,49.76 L357.90,48.71 L358.40,47.72 L358.90,46.79 L359.40,45.91 L359.90,45.09 L360.40,44.33 L360.90,43.62 L361.40,42.98 L361.90,42.39 L362.40,41.86 L362.90,41.39 L363.40,40.98 L363.90,40.62 L364.40,40.32 L364.90,40.07 L365.40,39.88 L365.90,39.74 L366.40,39.66 L366.90,39.63 L367.40,39.66 L367.90,39.73 L368.40,39.86 L368.90,40.04 L369.40,40.27 L369.90,40.56 L370.40,40.89 L370.90,41.27 L371.40,41.70 L371.90,42.18 L372.40,42.71 L372.90,43.30 L373.40,43.93 L373.90,44.63 L374.40,45.38 L374.90,46.20 L375.40,47.07 L375.90,48.02 L376.40,49.02 L376.90,50.10 L377.40,51.25 L377.90,52.47 L378.40,53.77 L378.90,55.15 L379.40,56.60 L379.90,58.14 L380.40,59.75 L380.90,61.43 L381.40,63.16 L381.90,64.95 L382.40,66.78 L382.90,68.64 L383.40,70.53 L383.90,72.44 L384.40,74.36 L384.90,76.27 L385.40,78.18 L385.90,80.08 L386.40,81.95 L386.90,83.80 L387.40,85.62 L387.90,87.42 L388.40,89.20 L388.90,90.97 L389.40,92.72 L389.90,94.46 L390.40,96.19 L390.90,97.91 L391.40,99.62 L391.90,101.33 L392.40,103.04 L392.90,104.75 L393.40,106.47 L393.90,108.18 L394.40,109.91 L394.90,111.65 L395.40,113.39 L395.90,115.16 L396.40,116.93 L396.90,118.73 L397.40,120.55 L397.90,122.39 L398.50,124.63 L398.50,124.64" stroke="#ff0000" stroke-width="2.9" stroke-dasharray="7.2 6.1"/>
<path d="M37.39,63.99 L37.40,63.98 L37.90,63.30 L38.40,62.63 L38.90,61.96 L39.40,61.30 L39.90,60.64 L40.40,59.99 L40.90,59.34 L41.40,58.69 L41.90,58.05 L42.40,57.41 L42.90,56.78 L43.40,56.15 L43.90,55.53 L44.40,54.91 L44.90,54.30 L45.40,53.69 L45.90,53.08 L46.40,52.49 L46.90,51.89 L47.40,51.31 L47.90,50.73 L48.40,50.15 L48.90,49.58 L49.40,49.02 L49.90,48.46 L50.40,47.91 L50.90,47.36 L51.40,46.82 L51.90,46.29 L52.40,45.76 L52.90,45.24 L53.40,44.72 L53.90,44.22 L54.40,43.72 L54.90,43.22 L55.40,42.74 L55.90,42.26 L56.40,41.78 L56.90,41.32 L57.40,40.86 L57.90,40.41 L58.40,39.96 L58.90,39.53 L59.40,39.10 L59.90,38.68 L60.40,38.27 L60.90,37.86 L61.40,37.47 L61.90,37.08 L62.40,36.70 L62.90,36.32 L63.40,35.96 L63.90,35.60 L64.40,35.25 L64.90,34.91 L65.40,34.58 L65.90,34.25 L66.40,33.94 L66.90,33.63 L67.40,33.33 L67.90,33.03 L68.40,32.75 L68.90,32.47 L69.40,32.20 L69.90,31.94 L70.40,31.69 L70.90,31.44 L71.40,31.20 L71.90,30.97 L72.40,30.75 L72.90,30.54 L73.40,30.33 L73.90,30.13 L74.40,29.94 L74.90,29.76 L75.40,29.58 L75.90,29.42 L76.40,29.26 L76.90,29.11 L77.40,28.97 L77.90,28.83 L78.40,28.70 L78.90,28.59 L79.40,28.47 L79.90,28.37 L80.40,28.28 L80.90,28.19 L81.40,28.11 L81.90,28.04 L82.40,27.97 L82.90,27.92 L83.40,27.87 L83.90,27.82 L84.40,27.79 L84.90,27.76 L85.40,27.73 L85.90,27.72 L86.40,27.71 L86.90,27.70 L87.40,27.70 L87.90,27.71 L88.40,27.72 L88.90,27.74 L89.40,27.76 L89.90,27.78 L90.40,27.82 L90.90,27.85 L91.40,27.89 L91.90,27.93 L92.40,27.98 L92.90,28.03 L93.40,28.08 L93.90,28.14 L94.40,28.20 L94.90,28.26 L95.40,28.32 L95.90,28.39 L96.40,28.46 L96.90,28.53 L97.40,28.60 L97.90,28.67 L98.40,28.75 L98.90,28.83 L99.40,28.90 L99.90,28.98 L100.40,29.06 L100.90,29.14 L101.40,29.22 L101.90,29.30 L102.40,29.38 L102.90,29.46 L103.40,29.54 L103.90,29.62 L104.40,29.70 L104.90,29.78 L105.40,29.86 L105.90,29.94 L106.40,30.03 L106.90,30.12 L107.40,30.20 L107.90,30.29 L108.40,30.38 L108.90,30.47 L109.40,30.57 L109.90,30.66 L110.40,30.76 L110.90,30.86 L111.40,30.96 L111.90,31.07 L112.40,31.17 L112.90,31.28 L113.40,31.39 L113.90,31.51 L114.40,31.63 L114.90,31.75 L115.40,31.87 L115.90,32.00 L116.40,32.13 L116.90,32.26 L117.40,32.40 L117.90,32.54 L118.40,32.68 L118.90,32.83 L119.40,32.98 L119.90,33.14 L120.40,33.30 L120.90,33.47 L121.40,33.64 L121.90,33.81 L122.40,33.99 L122.90,34.18 L123.40,34.36 L123.90,34.56 L124.40,34.76 L124.90,34.96 L125.40,35.17 L125.90,35.39 L126.40,35.61 L126.90,35.84 L127.40,36.07 L127.90,36.31 L128.40,36.55 L128.90,36.80 L129.40,37.06 L129.90,37.32 L130.40,37.59 L130.90,37.87 L131.40,38.15 L131.90,38.44 L132.40,38.74 L132.90,39.04 L133.40,39.35 L133.90,39.66 L134.40,39.98 L134.90,40.31 L135.40,40.64 L135.90,40.98 L136.40,41.32 L136.90,41.67 L137.40,42.03 L137.90,42.39 L138.40,42.76 L138.90,43.13 L139.40,43.50 L139.90,43.89 L140.40,44.27 L140.90,44.67 L141.40,45.06 L141.90,45.46 L142.40,45.87 L142.90,46.28 L143.40,46.70 L143.90,47.12 L144.40,47.55 L144.90,47.98 L145.40,48.42 L145.90,48.86 L146.40,49.30 L146.90,49.75 L147.40,50.20 L147.90,50.66 L148.40,51.12 L148.90,51.58 L149.40,52.05 L149.90,52.53 L150.40,53.00 L150.90,53.48 L151.40,53.97 L151.90,54.46 L152.40,54.95 L152.90,55.44 L153.40,55.94 L153.90,56.44 L154.40,56.95 L154.90,57.46 L155.40,57.97 L155.90,58.48 L156.40,59.00 L156.90,59.52 L157.40,60.04 L157.90,60.57 L158.40,61.10 L158.90,61.63 L159.40,62.16 L159.90,62.70 L160.40,63.24 L160.90,63.78 L161.40,64.32 L161.90,64.87 L162.40,65.42 L162.90,65.97 L163.40,66.52 L163.90,67.08 L164.40,67.63 L164.90,68.19 L165.40,68.75 L165.90,69.31 L166.40,69.87 L166.90,70.44 L167.40,71.00 L167.90,71.57 L168.40,72.14 L168.90,72.71 L169.40,73.28 L169.90,73.86 L170.40,74.43 L170.90,75.00 L171.40,75.58 L171.90,76.16 L172.40,76.73 L172.90,77.31 L173.40,77.89 L173.90,78.47 L174.40,79.05 L174.90,79.63 L175.40,80.21 L175.90,80.79 L176.40,81.37 L176.90,81.95 L177.40,82.52 L177.90,83.10 L178.40,83.67 L178.90,84.24 L179.40,84.81 L179.90,85.38 L180.40,85.94 L180.90,86.50 L181.40,87.06 L181.90,87.61 L182.40,88.16 L182.90,88.70 L183.40,89.24 L183.90,89.78 L184.40,90.31 L184.90,90.83 L185.40,91.35 L185.90,91.86 L186.40,92.37 L186.90,92.87 L187.40,93.36 L187.90,93.84 L188.40,94.32 L188.90,94.79 L189.40,95.25 L189.90,95.70 L190.40,96.15 L190.90,96.58 L191.40,97.01 L191.90,97.42 L192.40,97.83 L192.90,98.23 L193.40,98.61 L193.90,98.99 L194.40,99.35 L194.90,99.71 L195.40,100.05 L195.90,100.38 L196.40,100.70 L196.90,101.00 L197.40,101.29 L197.90,101.57 L198.40,101.84 L198.90,102.09 L199.40,102.33 L199.90,102.56 L200.40,102.77 L200.90,102.97 L201.40,103.17 L201.90,103.35 L202.40,103.51 L202.90,103.67 L203.40,103.82 L203.90,103.97 L204.40,104.10 L204.90,104.22 L205.40,104.34 L205.90,104.45 L206.40,104.56 L206.90,104.66 L207.40,104.75 L207.90,104.84 L208.40,104.93 L208.90,105.01 L209.40,105.09 L209.90,105.17 L210.40,105.25 L210.90,105.32 L211.40,105.40 L211.90,105.47 L212.40,105.54 L212.90,105.62 L213.40,105.69 L213.90,105.77 L214.40,105.85 L214.90,105.93 L215.40,106.02 L215.90,106.10 L216.40,106.19 L216.90,106.28 L217.40,106.37 L217.90,106.46 L218.40,106.55 L218.90,106.64 L219.40,106.74 L219.90,106.83 L220.40,106.92 L220.90,107.02 L221.40,107.11 L221.90,107.20 L222.40,107.29 L222.90,107.39 L223.40,107.48 L223.90,107.57 L224.40,107.65 L224.90,107.74 L225.40,107.83 L225.90,107.91 L226.40,107.99 L226.90,108.07 L227.40,108.15 L227.90,108.22 L228.40,108.30 L228.90,108.37 L229.40,108.43 L229.90,108.50 L230.40,108.56 L230.90,108.61 L231.40,108.67 L231.90,108.72 L232.40,108.76 L232.90,108.80 L233.40,108.84 L233.90,108.87 L234.40,108.90 L234.90,108.92 L235.40,108.94 L235.90,108.95 L236.40,108.96 L236.90,108.96 L237.40,108.96 L237.90,108.95 L238.40,108.93 L238.90,108.91 L239.40,108.88 L239.90,108.85 L240.40,108.81 L240.90,108.76 L241.40,108.70 L241.90,108.64 L242.40,108.57 L242.90,108.49 L243.40,108.40 L243.90,108.31 L244.40,108.20 L244.90,108.09 L245.40,107.97 L245.90,107.84 L246.40,107.69 L246.90,107.54 L247.40,107.38 L247.90,107.21 L248.40,107.03 L248.90,106.83 L249.40,106.63 L249.90,106.41 L250.40,106.19 L250.90,105.95 L251.40,105.70 L251.90,105.44 L252.40,105.16 L252.90,104.87 L253.40,104.57 L253.90,104.26 L254.40,103.93 L254.90,103.59 L255.40,103.24 L255.90,102.87 L256.40,102.49 L256.90,102.09 L257.40,101.68 L257.90,101.25 L258.40,100.81 L258.90,100.35 L259.40,99.88 L259.90,99.39 L260.40,98.88 L260.90,98.36 L261.40,97.82 L261.90,97.27 L262.40,96.70 L262.90,96.11 L263.40,95.50 L263.90,94.88 L264.40,94.23 L264.90,93.57 L265.40,92.89 L265.90,92.20 L266.40,91.48 L266.90,90.74 L267.40,89.99 L267.90,89.21 L268.40,88.42 L268.90,87.61 L269.40,86.78 L269.90,85.93 L270.40,85.07 L270.90,84.19 L271.40,83.30 L271.90,82.39 L272.40,81.47 L272.90,80.53 L273.40,79.59 L273.90,78.63 L274.40,77.66 L274.90,76.68 L275.40,75.70 L275.90,74.70 L276.40,73.70 L276.90,72.69 L277.40,71.67 L277.90,70.65 L278.40,69.62 L278.90,68.59 L279.40,67.56 L279.90,66.52 L280.40,65.48 L280.90,64.44 L281.40,63.39 L281.90,62.35 L282.40,61.31 L282.90,60.27 L283.40,59.23 L283.90,58.20 L284.40,57.17 L284.90,56.14 L285.40,55.12 L285.90,54.10 L286.40,53.09 L286.90,52.09 L287.40,51.09 L287.90,50.10 L288.40,49.13 L288.90,48.16 L289.40,47.20 L289.90,46.26 L290.40,45.32 L290.90,44.40 L291.40,43.49 L291.90,42.60 L292.40,41.72 L292.90,40.86 L293.40,40.01 L293.90,39.18 L294.40,38.36 L294.90,37.56 L295.40,36.78 L295.90,36.01 L296.40,35.26 L296.90,34.52 L297.40,33.80 L297.90,33.10 L298.40,32.41 L298.90,31.74 L299.40,31.08 L299.90,30.44 L300.40,29.81 L300.90,29.21 L301.40,28.61 L301.90,28.04 L302.40,27.48 L302.90,26.94 L303.40,26.41 L303.90,25.90 L304.40,25.41 L304.90,24.93 L305.40,24.47 L305.90,24.02 L306.40,23.59 L306.90,23.18 L307.40,22.79 L307.90,22.41 L308.40,22.05 L308.90,21.70 L309.40,21.37 L309.90,21.06 L310.40,20.76 L310.90,20.48 L311.40,20.22 L311.90,19.98 L312.40,19.75 L312.90,19.54 L313.40,19.34 L313.90,19.16 L314.40,19.00 L314.90,18.86 L315.40,18.73 L315.90,18.62 L316.40,18.53 L316.90,18.46 L317.40,18.40 L317.90,18.36 L318.40,18.33 L318.90,18.32 L319.40,18.33 L319.90,18.36 L320.40,18.41 L320.90,18.47 L321.40,18.55 L321.90,18.64 L322.40,18.76 L322.90,18.89 L323.40,19.04 L323.90,19.21 L324.40,19.39 L324.90,19.59 L325.40,19.81 L325.90,20.05 L326.40,20.30 L326.90,20.57 L327.40,20.86 L327.90,21.17 L328.40,21.50 L328.90,21.84 L329.40,22.20 L329.90,22.58 L330.40,22.98 L330.90,23.40 L331.40,23.84 L331.90,24.29 L332.40,24.76 L332.90,25.26 L333.40,25.77 L333.90,26.30 L334.40,26.85 L334.90,27.42 L335.40,28.01 L335.90,28.63 L336.40,29.26 L336.90,29.91 L337.40,30.58 L337.90,31.27 L338.40,31.98 L338.90,32.72 L339.40,33.47 L339.90,34.25 L340.40,35.04 L340.90,35.86 L341.40,36.69 L341.90,37.54 L342.40,38.41 L342.90,39.30 L343.40,40.20 L343.90,41.12 L344.40,42.05 L344.90,43.00 L345.40,43.95 L345.90,44.92 L346.40,45.90 L346.90,46.89 L347.40,47.89 L347.90,48.90 L348.40,49.91 L348.90,50.93 L349.40,51.95 L349.90,52.97 L350.40,54.00 L350.90,55.02 L351.40,56.04 L351.90,57.06 L352.40,58.08 L352.90,59.09 L353.40,60.09 L353.90,61.09 L354.40,62.08 L354.90,63.06 L355.40,64.03 L355.90,64.98 L356.40,65.93 L356.90,66.85 L357.40,67.77 L357.90,68.66 L358.40,69.54 L358.90,70.40 L359.40,71.25 L359.90,72.07 L360.40,72.87 L360.90,73.65 L361.40,74.41 L361.90,75.15 L362.40,75.86 L362.90,76.55 L363.40,77.22 L363.90,77.86 L364.40,78.48 L364.90,79.07 L365.40,79.63 L365.90,80.16 L366.40,80.67 L366.90,81.15 L367.40,81.60 L367.90,82.01 L368.40,82.40 L368.90,82.76 L369.40,83.08 L369.90,83.37 L370.40,83.63 L370.90,83.85 L371.40,84.05 L371.90,84.21 L372.40,84.35 L372.90,84.46 L373.40,84.53 L373.90,84.58 L374.40,84.61 L374.90,84.60 L375.40,84.57 L375.90,84.51 L376.40,84.43 L376.90,84.33 L377.40,84.20 L377.90,84.05 L378.40,83.87 L378.90,83.67 L379.40,83.45 L379.90,83.22 L380.40,82.96 L380.90,82.68 L381.40,82.38 L381.90,82.06 L382.40,81.73 L382.90,81.37 L383.40,81.00 L383.90,80.62 L384.40,80.22 L384.90,79.80 L385.40,79.37 L385.90,78.93 L386.40,78.47 L386.90,78.00 L387.40,77.52 L387.90,77.03 L388.40,76.53 L388.90,76.01 L389.40,75.49 L389.90,74.96 L390.40,74.42 L390.90,73.87 L391.40,73.31 L391.90,72.75 L392.40,72.18 L392.90,71.61 L393.40,71.03 L393.90,70.45 L394.40,69.86 L394.90,69.27 L395.40,68.68 L395.90,68.08 L396.40,67.49 L396.90,66.89 L397.40,66.29 L397.90,65.70 L398.50,64.98 L398.51,64.98" stroke="#00f800" stroke-width="2.9" stroke-dasharray="6.8 1.5 2.9 1.5"/>
<path d="M37.39,48.37 L37.40,48.36 L37.90,47.73 L38.40,47.11 L38.90,46.49 L39.40,45.89 L39.90,45.29 L40.40,44.70 L40.90,44.12 L41.40,43.54 L41.90,42.97 L42.40,42.41 L42.90,41.86 L43.40,41.32 L43.90,40.79 L44.40,40.26 L44.90,39.74 L45.40,39.23 L45.90,38.72 L46.40,38.23 L46.90,37.74 L47.40,37.26 L47.90,36.79 L48.40,36.33 L48.90,35.87 L49.40,35.42 L49.90,34.98 L50.40,34.55 L50.90,34.13 L51.40,33.71 L51.90,33.30 L52.40,32.90 L52.90,32.51 L53.40,32.12 L53.90,31.75 L54.40,31.38 L54.90,31.02 L55.40,30.67 L55.90,30.32 L56.40,29.98 L56.90,29.65 L57.40,29.33 L57.90,29.02 L58.40,28.71 L58.90,28.41 L59.40,28.12 L59.90,27.84 L60.40,27.57 L60.90,27.30 L61.40,27.04 L61.90,26.79 L62.40,26.55 L62.90,26.31 L63.40,26.08 L63.90,25.86 L64.40,25.65 L64.90,25.45 L65.40,25.25 L65.90,25.06 L66.40,24.88 L66.90,24.71 L67.40,24.55 L67.90,24.39 L68.40,24.24 L68.90,24.10 L69.40,23.96 L69.90,23.84 L70.40,23.72 L70.90,23.61 L71.40,23.51 L71.90,23.41 L72.40,23.32 L72.90,23.25 L73.40,23.17 L73.90,23.11 L74.40,23.05 L74.90,23.01 L75.40,22.96 L75.90,22.93 L76.40,22.91 L76.90,22.89 L77.40,22.88 L77.90,22.88 L78.40,22.88 L78.90,22.90 L79.40,22.92 L79.90,22.95 L80.40,22.98 L80.90,23.03 L81.40,23.08 L81.90,23.14 L82.40,23.21 L82.90,23.28 L83.40,23.36 L83.90,23.45 L84.40,23.54 L84.90,23.64 L85.40,23.75 L85.90,23.86 L86.40,23.98 L86.90,24.10 L87.40,24.22 L87.90,24.35 L88.40,24.49 L88.90,24.63 L89.40,24.77 L89.90,24.92 L90.40,25.06 L90.90,25.22 L91.40,25.37 L91.90,25.53 L92.40,25.69 L92.90,25.85 L93.40,26.01 L93.90,26.18 L94.40,26.34 L94.90,26.51 L95.40,26.68 L95.90,26.84 L96.40,27.01 L96.90,27.18 L97.40,27.35 L97.90,27.51 L98.40,27.68 L98.90,27.84 L99.40,28.01 L99.90,28.17 L100.40,28.33 L100.90,28.49 L101.40,28.64 L101.90,28.80 L102.40,28.95 L102.90,29.09 L103.40,29.24 L103.90,29.38 L104.40,29.52 L104.90,29.66 L105.40,29.80 L105.90,29.93 L106.40,30.06 L106.90,30.19 L107.40,30.32 L107.90,30.44 L108.40,30.57 L108.90,30.69 L109.40,30.81 L109.90,30.93 L110.40,31.04 L110.90,31.16 L111.40,31.27 L111.90,31.38 L112.40,31.49 L112.90,31.60 L113.40,31.70 L113.90,31.81 L114.40,31.91 L114.90,32.01 L115.40,32.11 L115.90,32.21 L116.40,32.31 L116.90,32.41 L117.40,32.50 L117.90,32.59 L118.40,32.69 L118.90,32.78 L119.40,32.87 L119.90,32.96 L120.40,33.05 L120.90,33.14 L121.40,33.22 L121.90,33.31 L122.40,33.40 L122.90,33.48 L123.40,33.56 L123.90,33.65 L124.40,33.73 L124.90,33.81 L125.40,33.89 L125.90,33.98 L126.40,34.06 L126.90,34.14 L127.40,34.22 L127.90,34.30 L128.40,34.38 L128.90,34.46 L129.40,34.54 L129.90,34.62 L130.40,34.70 L130.90,34.78 L131.40,34.85 L131.90,34.93 L132.40,35.01 L132.90,35.09 L133.40,35.17 L133.90,35.25 L134.40,35.33 L134.90,35.41 L135.40,35.50 L135.90,35.58 L136.40,35.66 L136.90,35.74 L137.40,35.82 L137.90,35.91 L138.40,35.99 L138.90,36.08 L139.40,36.16 L139.90,36.25 L140.40,36.34 L140.90,36.43 L141.40,36.51 L141.90,36.61 L142.40,36.70 L142.90,36.79 L143.40,36.88 L143.90,36.98 L144.40,37.07 L144.90,37.17 L145.40,37.27 L145.90,37.37 L146.40,37.47 L146.90,37.58 L147.40,37.68 L147.90,37.79 L148.40,37.90 L148.90,38.01 L149.40,38.13 L149.90,38.24 L150.40,38.36 L150.90,38.48 L151.40,38.61 L151.90,38.73 L152.40,38.86 L152.90,38.99 L153.40,39.12 L153.90,39.26 L154.40,39.40 L154.90,39.54 L155.40,39.68 L155.90,39.83 L156.40,39.98 L156.90,40.14 L157.40,40.29 L157.90,40.45 L158.40,40.62 L158.90,40.78 L159.40,40.95 L159.90,41.13 L160.40,41.31 L160.90,41.49 L161.40,41.67 L161.90,41.86 L162.40,42.06 L162.90,42.25 L163.40,42.45 L163.90,42.66 L164.40,42.87 L164.90,43.08 L165.40,43.30 L165.90,43.52 L166.40,43.75 L166.90,43.98 L167.40,44.22 L167.90,44.46 L168.40,44.71 L168.90,44.96 L169.40,45.21 L169.90,45.47 L170.40,45.74 L170.90,46.01 L171.40,46.29 L171.90,46.57 L172.40,46.85 L172.90,47.15 L173.40,47.44 L173.90,47.75 L174.40,48.06 L174.90,48.37 L175.40,48.69 L175.90,49.02 L176.40,49.35 L176.90,49.69 L177.40,50.03 L177.90,50.38 L178.40,50.74 L178.90,51.10 L179.40,51.47 L179.90,51.85 L180.40,52.23 L180.90,52.62 L181.40,53.02 L181.90,53.42 L182.40,53.83 L182.90,54.24 L183.40,54.67 L183.90,55.09 L184.40,55.53 L184.90,55.98 L185.40,56.43 L185.90,56.89 L186.40,57.35 L186.90,57.82 L187.40,58.31 L187.90,58.79 L188.40,59.29 L188.90,59.79 L189.40,60.30 L189.90,60.82 L190.40,61.34 L190.90,61.87 L191.40,62.41 L191.90,62.95 L192.40,63.49 L192.90,64.04 L193.40,64.59 L193.90,65.15 L194.40,65.71 L194.90,66.27 L195.40,66.83 L195.90,67.40 L196.40,67.97 L196.90,68.53 L197.40,69.10 L197.90,69.67 L198.40,70.24 L198.90,70.81 L199.40,71.38 L199.90,71.95 L200.40,72.52 L200.90,73.08 L201.40,73.65 L201.90,74.21 L202.40,74.76 L202.90,75.32 L203.40,75.87 L203.90,76.41 L204.40,76.95 L204.90,77.49 L205.40,78.02 L205.90,78.55 L206.40,79.07 L206.90,79.59 L207.40,80.10 L207.90,80.61 L208.40,81.11 L208.90,81.61 L209.40,82.11 L209.90,82.60 L210.40,83.09 L210.90,83.58 L211.40,84.06 L211.90,84.54 L212.40,85.02 L212.90,85.50 L213.40,85.98 L213.90,86.45 L214.40,86.93 L214.90,87.40 L215.40,87.87 L215.90,88.34 L216.40,88.82 L216.90,89.29 L217.40,89.76 L217.90,90.23 L218.40,90.70 L218.90,91.18 L219.40,91.65 L219.90,92.13 L220.40,92.61 L220.90,93.09 L221.40,93.57 L221.90,94.05 L222.40,94.54 L222.90,95.03 L223.40,95.52 L223.90,96.02 L224.40,96.52 L224.90,97.02 L225.40,97.53 L225.90,98.04 L226.40,98.55 L226.90,99.07 L227.40,99.60 L227.90,100.13 L228.40,100.66 L228.90,101.21 L229.40,101.75 L229.90,102.31 L230.40,102.87 L230.90,103.43 L231.40,104.00 L231.90,104.58 L232.40,105.16 L232.90,105.74 L233.40,106.33 L233.90,106.92 L234.40,107.52 L234.90,108.11 L235.40,108.71 L235.90,109.31 L236.40,109.92 L236.90,110.52 L237.40,111.12 L237.90,111.72 L238.40,112.32 L238.90,112.93 L239.40,113.52 L239.90,114.12 L240.40,114.72 L240.90,115.31 L241.40,115.89 L241.90,116.48 L242.40,117.06 L242.90,117.63 L243.40,118.20 L243.90,118.77 L244.40,119.33 L244.90,119.88 L245.40,120.42 L245.90,120.96 L246.40,121.49 L246.90,122.01 L247.40,122.52 L247.90,123.03 L248.40,123.52 L248.90,124.00 L249.40,124.48 L249.90,124.94 L250.40,125.39 L250.90,125.83 L251.40,126.26 L251.90,126.67 L252.40,127.07 L252.90,127.46 L253.40,127.83 L253.90,128.19 L254.40,128.53 L254.90,128.86 L255.40,129.17 L255.90,129.47 L256.40,129.75 L256.90,130.01 L257.40,130.25 L257.90,130.48 L258.40,130.69 L258.90,130.88 L259.40,131.05 L259.90,131.20 L260.40,131.33 L260.90,131.44 L261.40,131.53 L261.90,131.60 L262.40,131.64 L262.90,131.67 L263.40,131.67 L263.90,131.65 L264.40,131.60 L264.90,131.53 L265.40,131.44 L265.90,131.33 L266.40,131.18 L266.90,131.02 L267.40,130.83 L267.90,130.62 L268.40,130.39 L268.90,130.13 L269.40,129.85 L269.90,129.55 L270.40,129.23 L270.90,128.88 L271.40,128.52 L271.90,128.13 L272.40,127.72 L272.90,127.29 L273.40,126.84 L273.90,126.37 L274.40,125.88 L274.90,125.37 L275.40,124.84 L275.90,124.29 L276.40,123.72 L276.90,123.13 L277.40,122.53 L277.90,121.91 L278.40,121.27 L278.90,120.62 L279.40,119.95 L279.90,119.27 L280.40,118.58 L280.90,117.87 L281.40,117.15 L281.90,116.42 L282.40,115.67 L282.90,114.92 L283.40,114.15 L283.90,113.37 L284.40,112.58 L284.90,111.78 L285.40,110.97 L285.90,110.16 L286.40,109.33 L286.90,108.50 L287.40,107.65 L287.90,106.80 L288.40,105.94 L288.90,105.08 L289.40,104.21 L289.90,103.33 L290.40,102.44 L290.90,101.55 L291.40,100.66 L291.90,99.76 L292.40,98.86 L292.90,97.95 L293.40,97.04 L293.90,96.12 L294.40,95.21 L294.90,94.29 L295.40,93.36 L295.90,92.44 L296.40,91.51 L296.90,90.59 L297.40,89.66 L297.90,88.73 L298.40,87.81 L298.90,86.88 L299.40,85.95 L299.90,85.03 L300.40,84.11 L300.90,83.19 L301.40,82.27 L301.90,81.35 L302.40,80.44 L302.90,79.53 L303.40,78.63 L303.90,77.73 L304.40,76.83 L304.90,75.94 L305.40,75.06 L305.90,74.18 L306.40,73.31 L306.90,72.44 L307.40,71.58 L307.90,70.73 L308.40,69.88 L308.90,69.05 L309.40,68.22 L309.90,67.40 L310.40,66.59 L310.90,65.79 L311.40,65.00 L311.90,64.22 L312.40,63.45 L312.90,62.69 L313.40,61.95 L313.90,61.21 L314.40,60.49 L314.90,59.78 L315.40,59.08 L315.90,58.40 L316.40,57.73 L316.90,57.08 L317.40,56.44 L317.90,55.81 L318.40,55.20 L318.90,54.60 L319.40,54.02 L319.90,53.46 L320.40,52.91 L320.90,52.37 L321.40,51.85 L321.90,51.34 L322.40,50.85 L322.90,50.38 L323.40,49.92 L323.90,49.47 L324.40,49.05 L324.90,48.63 L325.40,48.23 L325.90,47.85 L326.40,47.48 L326.90,47.13 L327.40,46.79 L327.90,46.47 L328.40,46.16 L328.90,45.87 L329.40,45.60 L329.90,45.34 L330.40,45.09 L330.90,44.86 L331.40,44.65 L331.90,44.45 L332.40,44.27 L332.90,44.11 L333.40,43.95 L333.90,43.82 L334.40,43.70 L334.90,43.60 L335.40,43.51 L335.90,43.44 L336.40,43.38 L336.90,43.34 L337.40,43.32 L337.90,43.31 L338.40,43.31 L338.90,43.34 L339.40,43.38 L339.90,43.43 L340.40,43.50 L340.90,43.59 L341.40,43.68 L341.90,43.80 L342.40,43.93 L342.90,44.07 L343.40,44.22 L343.90,44.39 L344.40,44.56 L344.90,44.75 L345.40,44.95 L345.90,45.17 L346.40,45.39 L346.90,45.62 L347.40,45.86 L347.90,46.12 L348.40,46.38 L348.90,46.65 L349.40,46.92 L349.90,47.21 L350.40,47.50 L350.90,47.80 L351.40,48.11 L351.90,48.42 L352.40,48.74 L352.90,49.06 L353.40,49.39 L353.90,49.72 L354.40,50.06 L354.90,50.40 L355.40,50.74 L355.90,51.09 L356.40,51.44 L356.90,51.79 L357.40,52.14 L357.90,52.50 L358.40,52.85 L358.90,53.21 L359.40,53.57 L359.90,53.92 L360.40,54.28 L360.90,54.63 L361.40,54.98 L361.90,55.33 L362.40,55.67 L362.90,56.02 L363.40,56.35 L363.90,56.69 L364.40,57.01 L364.90,57.33 L365.40,57.65 L365.90,57.95 L366.40,58.25 L366.90,58.55 L367.40,58.83 L367.90,59.10 L368.40,59.37 L368.90,59.62 L369.40,59.86 L369.90,60.10 L370.40,60.32 L370.90,60.52 L371.40,60.72 L371.90,60.90 L372.40,61.07 L372.90,61.22 L373.40,61.35 L373.90,61.48 L374.40,61.58 L374.90,61.67 L375.40,61.74 L375.90,61.80 L376.40,61.83 L376.90,61.85 L377.40,61.84 L377.90,61.82 L378.40,61.78 L378.90,61.72 L379.40,61.64 L379.90,61.55 L380.40,61.44 L380.90,61.31 L381.40,61.17 L381.90,61.01 L382.40,60.84 L382.90,60.65 L383.40,60.45 L383.90,60.23 L384.40,60.00 L384.90,59.76 L385.40,59.51 L385.90,59.24 L386.40,58.96 L386.90,58.68 L387.40,58.38 L387.90,58.07 L388.40,57.76 L388.90,57.43 L389.40,57.10 L389.90,56.76 L390.40,56.41 L390.90,56.05 L391.40,55.69 L391.90,55.32 L392.40,54.95 L392.90,54.57 L393.40,54.18 L393.90,53.80 L394.40,53.40 L394.90,53.01 L395.40,52.61 L395.90,52.21 L396.40,51.81 L396.90,51.41 L397.40,51.01 L397.90,50.60 L398.50,50.12 L398.51,50.11" stroke="#ff00ff" stroke-width="2.9" stroke-dasharray="1.85 1.45"/>
</g>
<text transform="translate(37.70,271.20) scale(0.87,1)" font-size="19.7" text-anchor="middle" font-family="Liberation Sans, sans-serif" >0</text>
<text transform="translate(67.79,271.20) scale(0.87,1)" font-size="19.7" text-anchor="middle" font-family="Liberation Sans, sans-serif" >2</text>
<text transform="translate(97.88,271.20) scale(0.87,1)" font-size="19.7" text-anchor="middle" font-family="Liberation Sans, sans-serif" >4</text>
<text transform="translate(127.98,271.20) scale(0.87,1)" font-size="19.7" text-anchor="middle" font-family="Liberation Sans, sans-serif" >6</text>
<text transform="translate(158.07,271.20) scale(0.87,1)" font-size="19.7" text-anchor="middle" font-family="Liberation Sans, sans-serif" >8</text>
<text transform="translate(188.16,271.20) scale(0.87,1)" font-size="19.7" text-anchor="middle" font-family="Liberation Sans, sans-serif" >10</text>
<text transform="translate(218.25,271.20) scale(0.87,1)" font-size="19.7" text-anchor="middle" font-family="Liberation Sans, sans-serif" >12</text>
<text transform="translate(248.34,271.20) scale(0.87,1)" font-size="19.7" text-anchor="middle" font-family="Liberation Sans, sans-serif" >14</text>
<text transform="translate(278.43,271.20) scale(0.87,1)" font-size="19.7" text-anchor="middle" font-family="Liberation Sans, sans-serif" >16</text>
<text transform="translate(308.52,271.20) scale(0.87,1)" font-size="19.7" text-anchor="middle" font-family="Liberation Sans, sans-serif" >18</text>
<text transform="translate(338.62,271.20) scale(0.87,1)" font-size="19.7" text-anchor="middle" font-family="Liberation Sans, sans-serif" >20</text>
<text transform="translate(368.71,271.20) scale(0.87,1)" font-size="19.7" text-anchor="middle" font-family="Liberation Sans, sans-serif" >22</text>
<text transform="translate(404.60,235.55) scale(0.96,1)" font-size="19.8" text-anchor="start" font-family="Liberation Sans, sans-serif" >0.1</text>
<text transform="translate(404.60,212.10) scale(0.96,1)" font-size="19.8" text-anchor="start" font-family="Liberation Sans, sans-serif" >0.2</text>
<text transform="translate(404.60,188.66) scale(0.96,1)" font-size="19.8" text-anchor="start" font-family="Liberation Sans, sans-serif" >0.3</text>
<text transform="translate(404.60,165.21) scale(0.96,1)" font-size="19.8" text-anchor="start" font-family="Liberation Sans, sans-serif" >0.4</text>
<text transform="translate(404.60,141.76) scale(0.96,1)" font-size="19.8" text-anchor="start" font-family="Liberation Sans, sans-serif" >0.5</text>
<text transform="translate(404.60,118.31) scale(0.96,1)" font-size="19.8" text-anchor="start" font-family="Liberation Sans, sans-serif" >0.6</text>
<text transform="translate(404.60,94.87) scale(0.96,1)" font-size="19.8" text-anchor="start" font-family="Liberation Sans, sans-serif" >0.7</text>
<text transform="translate(404.60,71.42) scale(0.96,1)" font-size="19.8" text-anchor="start" font-family="Liberation Sans, sans-serif" >0.8</text>
<text transform="translate(404.60,47.97) scale(0.96,1)" font-size="19.8" text-anchor="start" font-family="Liberation Sans, sans-serif" >0.9</text>
<text transform="translate(406.00,24.52) scale(0.96,1)" font-size="19.8" text-anchor="start" font-family="Liberation Sans, sans-serif" >1</text>
<text transform="translate(226.90,294.20) scale(0.92,1)" font-size="18.7" text-anchor="middle" font-family="Liberation Sans, sans-serif" >GMST [hours]</text>
<rect x="207.6" y="145.6" width="65.7" height="84.8" fill="#fff" stroke="#000" stroke-width="0.8"/>
<line x1="214.3" y1="176.9" x2="230.2" y2="176.9" stroke="#0000ff" stroke-width="2.3"/>
<text transform="translate(232.00,181.30) scale(0.98,1)" font-size="14.4" text-anchor="start" font-family="Liberation Sans, sans-serif" >{HLV}</text>
<line x1="214.3" y1="191.7" x2="229" y2="191.7" stroke="#ff0000" stroke-width="2.0" stroke-dasharray="4.6 1.8"/>
<text transform="translate(232.00,196.20) scale(0.98,1)" font-size="14.4" text-anchor="start" font-family="Liberation Sans, sans-serif" >{HLK}</text>
<line x1="214.3" y1="206.1" x2="229" y2="206.1" stroke="#00f800" stroke-width="2.0" stroke-dasharray="4.6 1.3 1.5 1.3"/>
<text transform="translate(232.00,210.60) scale(0.98,1)" font-size="14.4" text-anchor="start" font-family="Liberation Sans, sans-serif" >{HVK}</text>
<line x1="214.3" y1="220.9" x2="229" y2="220.9" stroke="#ff00ff" stroke-width="2.0" stroke-dasharray="1.1 1.1"/>
<text transform="translate(232.00,225.40) scale(0.98,1)" font-size="14.4" text-anchor="start" font-family="Liberation Sans, sans-serif" >{LVK}</text>
<g transform="translate(224.3,162.3) scale(0.95,1)" fill="none" stroke="#000" stroke-linecap="round" stroke-linejoin="round"><path stroke-width="0.55" d="M1.7,-6.2 C1.6,-8.2 3.6,-10 5.9,-10.1 C5.6,-7 5.2,-4.5 4.1,-2.2 C3.3,-0.6 1.5,0 0.5,-0.5 C0.1,-0.8 0.1,-1.1 0.3,-1.4 M10.1,-0.4 C10.8,-3.5 11.5,-6.8 12.6,-9.0 C13.2,-10.2 14.1,-10.8 14.7,-10.6 C15.1,-10.4 15.2,-10.1 15.1,-9.8"/><path stroke-width="1.35" stroke-linecap="butt" d="M5.8,-10 L10.0,-0.5"/></g>
<text transform="translate(236.80,165.50) scale(1.0,1)" font-size="13.1" text-anchor="start" font-family="Liberation Sans, sans-serif" >sub</text>
<text transform="translate(19.0,167.3) rotate(-90)" font-size="17" font-family="Liberation Sans, sans-serif" >&#961;</text>
<text transform="translate(12.8,156.3) rotate(-90)" font-size="14" font-family="Liberation Sans, sans-serif" >2</text>
<g transform="translate(30.7,162.7) rotate(-90) scale(1.03,1.0)" fill="none" stroke="#000" stroke-linecap="round" stroke-linejoin="round"><path stroke-width="0.55" d="M1.7,-6.2 C1.6,-8.2 3.6,-10 5.9,-10.1 C5.6,-7 5.2,-4.5 4.1,-2.2 C3.3,-0.6 1.5,0 0.5,-0.5 C0.1,-0.8 0.1,-1.1 0.3,-1.4 M10.1,-0.4 C10.8,-3.5 11.5,-6.8 12.6,-9.0 C13.2,-10.2 14.1,-10.8 14.7,-10.6 C15.1,-10.4 15.2,-10.1 15.1,-9.8"/><path stroke-width="1.35" stroke-linecap="butt" d="M5.8,-10 L10.0,-0.5"/></g>
<text transform="translate(29.8,147.4) rotate(-90)" font-size="15.2" font-family="Liberation Sans, sans-serif" >sub</text>
<text transform="translate(19.3,119.3) rotate(-90)" font-size="17.5" font-family="Liberation Sans, sans-serif" >/</text>
<text transform="translate(19.0,108.3) rotate(-90)" font-size="17" font-family="Liberation Sans, sans-serif" >&#961;</text>
<text transform="translate(12.8,96.3) rotate(-90)" font-size="14" font-family="Liberation Sans, sans-serif" >2</text>
<g transform="translate(30.7,99.7) rotate(-90) scale(1.03,1.0)" fill="none" stroke="#000" stroke-linecap="round" stroke-linejoin="round"><path stroke-width="0.55" d="M1.7,-6.2 C1.6,-8.2 3.6,-10 5.9,-10.1 C5.6,-7 5.2,-4.5 4.1,-2.2 C3.3,-0.6 1.5,0 0.5,-0.5 C0.1,-0.8 0.1,-1.1 0.3,-1.4 M10.1,-0.4 C10.8,-3.5 11.5,-6.8 12.6,-9.0 C13.2,-10.2 14.1,-10.8 14.7,-10.6 C15.1,-10.4 15.2,-10.1 15.1,-9.8"/><path stroke-width="1.35" stroke-linecap="butt" d="M5.8,-10 L10.0,-0.5"/></g>
</svg>
</body></html>
